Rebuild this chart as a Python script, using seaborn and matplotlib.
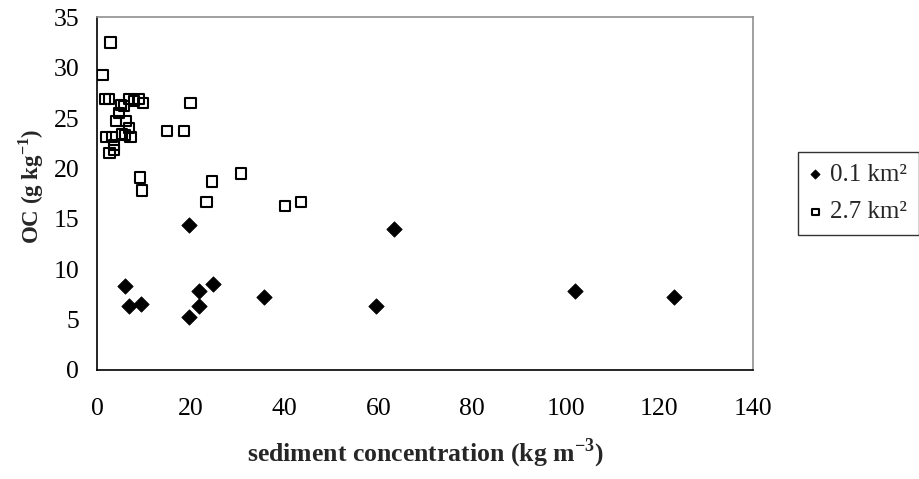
import matplotlib
matplotlib.use("Agg")
import matplotlib.pyplot as plt
import seaborn as sns
import pandas as pd

# 0.1 km² series (filled diamonds)
x_small = [5.8, 6.8, 9.3, 19.6, 19.6, 21.7, 21.7, 24.6, 35.6, 59.6, 63.3, 102.0, 123.2]
y_small = [8.3, 6.3, 6.5, 14.4, 5.3, 7.8, 6.3, 8.5, 7.2, 6.3, 14.0, 7.8, 7.2]

# 2.7 km² series (open squares)
x_large = [2.8, 1.1, 1.6, 2.5, 5.1, 5.7, 6.8, 7.9, 8.8, 9.7, 19.9, 4.6, 4.0, 6.1, 6.8,
           14.8, 18.5, 1.9, 3.1, 5.2, 5.9, 7.1, 3.6, 3.6, 2.6, 9.1, 9.6, 24.5, 30.7,
           23.3, 40.1, 43.5]
y_large = [32.5, 29.3, 26.9, 26.9, 26.3, 26.2, 26.9, 26.7, 26.9, 26.5, 26.5, 25.5, 24.7, 24.7, 24.0,
           23.7, 23.7, 23.1, 23.1, 23.4, 23.3, 23.1, 22.3, 21.8, 21.5, 19.1, 17.8, 18.7, 19.5,
           16.7, 16.3, 16.7]

series_labels = ["0.1 km²", "2.7 km²"]
x_ticks = [0, 20, 40, 60, 80, 100, 120, 140]
y_ticks = [0, 5, 10, 15, 20, 25, 30, 35]

df_small = pd.DataFrame({"x": x_small, "y": y_small})
df_large = pd.DataFrame({"x": x_large, "y": y_large})

sns.set_style("white")
plt.rcParams["font.family"] = ["Liberation Serif", "DejaVu Serif"]

fig = plt.figure(figsize=(9.2, 4.79), dpi=100)
ax = fig.add_axes([0.1058, 0.2276, 0.7127, 0.7364])

sns.scatterplot(data=df_small, x="x", y="y", ax=ax, marker="D", s=62,
                color="black", edgecolor="black", linewidth=0.5,
                label=series_labels[0], zorder=3)
sns.scatterplot(data=df_large, x="x", y="y", ax=ax, marker="s", s=55,
                facecolor="none", edgecolor="black", linewidth=1.5,
                label=series_labels[1], zorder=3)

ax.set_xlim(0, 140)
ax.set_ylim(0, 35)
ax.set_xticks(x_ticks)
ax.set_yticks(y_ticks)
ax.tick_params(axis="both", which="both", direction="out", length=5, width=1,
               colors="black", labelsize=18.5)
ax.tick_params(axis="y", pad=8)
ax.tick_params(axis="x", pad=15)

for side in ["left", "bottom"]:
    ax.spines[side].set_color("black")
    ax.spines[side].set_linewidth(1.2)
for side in ["top", "right"]:
    ax.spines[side].set_color("#909090")
    ax.spines[side].set_linewidth(1.2)

ax.set_xlabel("sediment concentration (kg m$^{\\mathregular{-3}}$)", fontsize=18.5,
              fontweight="bold", labelpad=12)
ax.set_ylabel("OC (g kg$^{\\mathregular{-1}}$)", fontsize=16.5, fontweight="bold")
ax.yaxis.set_label_coords(-0.079, 0.52)

leg = ax.legend(loc="upper left", bbox_to_anchor=(798 / 920, 1 - 152 / 479),
                bbox_transform=fig.transFigure, frameon=True, fancybox=False,
                fontsize=18, markerscale=0.6, handletextpad=0.35,
                borderpad=0.45, labelspacing=0.6, handlelength=0.5,
                borderaxespad=0)
leg.get_frame().set_edgecolor("black")
leg.get_frame().set_linewidth(1.0)

fig.savefig("out.png", dpi=100)
